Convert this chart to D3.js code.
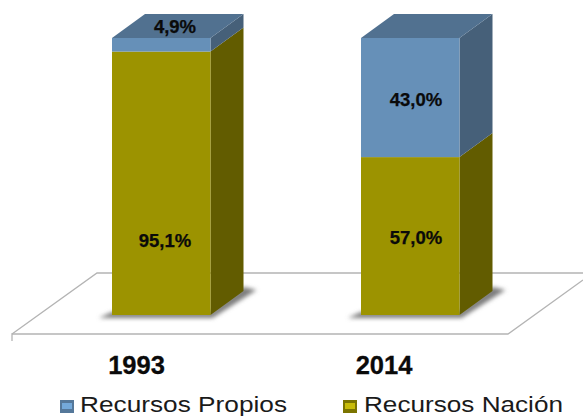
<!DOCTYPE html>
<html><head><meta charset="utf-8">
<script src="https://cdnjs.cloudflare.com/ajax/libs/d3/7.8.5/d3.min.js"></script>
<style>html,body{margin:0;padding:0;background:#fff;overflow:hidden}svg{display:block}text{font-family:"Liberation Sans",Arial,sans-serif}</style>
</head><body><svg id="c" width="583" height="416"></svg>
<script>
const categories = ["1993","2014"];
const seriesNames = ["Recursos Nación","Recursos Propios"];
const nacion = [95.1,57.0];
const propios = [4.9,43.0];
const nacionLabels = ["95,1%","57,0%"];
const propiosLabels = ["4,9%","43,0%"];

const svg = d3.select("#c");
const defs = svg.append("defs");
defs.append("filter").attr("id","blur").attr("x","-30%").attr("y","-100%").attr("width","160%").attr("height","300%")
  .append("feGaussianBlur").attr("stdDeviation",2);
const y = d3.scaleLinear().domain([0,100]).range([315,38]);
const x0 = d3.scalePoint().domain(categories).range([112,361]);
const barW = 98.5, dx = 33, dy = 24;
const colors = {
  nacion:{front:"#9c9300",side:"#625c00",glow:"#c8bc08",edge:"#7b7400"},
  propios:{front:"#6690b8",side:"#466079",top:"#517190",glow:"#74a9da",edge:"#55789a"}
};
const line = d3.line();

// floor
const floor = svg.append("g").attr("fill","none").attr("stroke","#b4b4b4").attr("stroke-width",1.3);
floor.append("path").attr("d",line([[12,341],[12,334],[508,334],[583,280]]));
floor.append("path").attr("d",line([[12,334],[97,273],[583,273]]));

// shadows
svg.append("g").selectAll("path").data(categories).join("path")
  .attr("fill","#7d7d7d").attr("filter","url(#blur)")
  .attr("d",c=>{const a=x0(c);return line([[a-13,318],[a+barW+2,318],[a+barW+dx+13,290],[a+barW+dx,287],[a+barW,312],[a,312]])+"Z";});

// bars
const g = svg.append("g").selectAll("g").data(categories).join("g");
g.each(function(c,i){
  const a=x0(c), gs=d3.select(this), b=a+barW;
  const y0=y(0), y1=y(nacion[i]), y2=y(nacion[i]+propios[i]);
  gs.append("path").attr("fill",colors.nacion.side).attr("d",line([[b,y0],[b+dx,y0-dy],[b+dx,y1-dy],[b,y1]])+"Z");
  gs.append("path").attr("fill",colors.propios.side).attr("d",line([[b,y1],[b+dx,y1-dy],[b+dx,y2-dy],[b,y2]])+"Z");
  gs.append("path").attr("fill",colors.propios.top).attr("d",line([[a,y2],[a+dx,y2-dy],[b+dx,y2-dy],[b,y2]])+"Z");
  gs.append("rect").attr("x",a).attr("y",y1).attr("width",barW).attr("height",y0-y1).attr("fill",colors.nacion.front);
  gs.append("rect").attr("x",a).attr("y",y2).attr("width",barW).attr("height",y1-y2).attr("fill",colors.propios.front);
});

// data labels
const lab = svg.append("g").attr("text-anchor","middle").attr("font-weight","700").attr("font-size",18.5).attr("fill","#0a0a0a")
  .attr("stroke","#0a0a0a").attr("stroke-width",0.25);
const nacionPos = [[165,y(nacion[0])+195],[416,y(nacion[1])+87]];
const propiosPos = [[175,33],[416,y(100)+68]];
nacionLabels.forEach((t,i)=>lab.append("text").attr("x",nacionPos[i][0]).attr("y",nacionPos[i][1]).text(t));
propiosLabels.forEach((t,i)=>lab.append("text").attr("x",propiosPos[i][0]).attr("y",propiosPos[i][1]).text(t));

// category labels
const catX=[136.5,384];
svg.append("g").attr("text-anchor","middle").attr("font-weight","700").attr("font-size",25.5).attr("fill","#0a0a0a")
  .attr("stroke","#0a0a0a").attr("stroke-width",0.3)
  .selectAll("text").data(categories).join("text").attr("x",(d,i)=>catX[i]).attr("y",374).text(d=>d);

// legend
const legend=[{n:seriesNames[1],k:"propios",sx:60,tx:80,w:207},{n:seriesNames[0],k:"nacion",sx:343,tx:364,w:199}];
const lg=svg.append("g").selectAll("g").data(legend).join("g");
lg.append("rect").attr("x",d=>d.sx).attr("y",400).attr("width",14).attr("height",13).attr("fill",d=>colors[d.k].edge);
lg.append("rect").attr("x",d=>d.sx+2).attr("y",403).attr("width",10).attr("height",6).attr("fill",d=>colors[d.k].glow);
lg.append("text").attr("x",d=>d.tx).attr("y",411.5).attr("font-size",21.5).attr("fill","#1a1a1a")
  .attr("textLength",d=>d.w).attr("lengthAdjust","spacingAndGlyphs").text(d=>d.n);
</script></body></html>
